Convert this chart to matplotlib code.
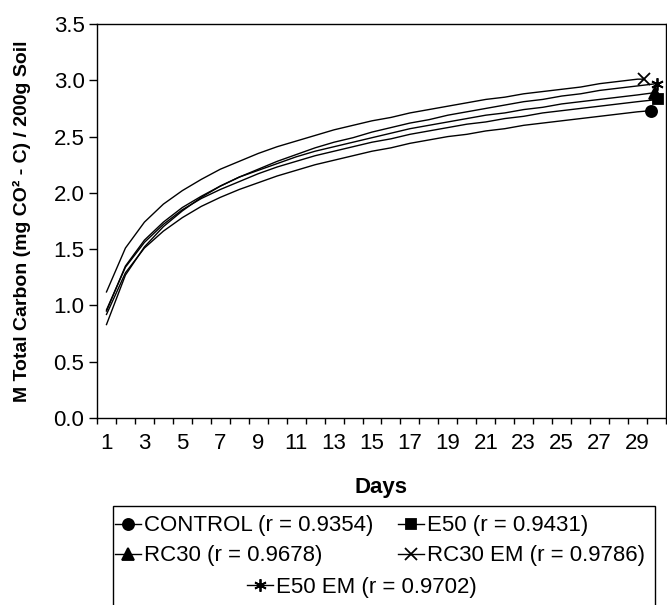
import matplotlib
matplotlib.use("Agg")
import matplotlib.pyplot as plt
from matplotlib.lines import Line2D
from matplotlib.patches import Rectangle

plt.rcParams['font.family'] = ['Liberation Sans', 'DejaVu Sans']

days = list(range(1, 30))
end_day = {"CONTROL": 29.7, "E50": 30.1, "RC30": 29.9, "RC30 EM": 29.35, "E50 EM": 30.0}

control = [0.92, 1.29, 1.51, 1.66, 1.78, 1.88, 1.96, 2.03, 2.09, 2.15,
           2.20, 2.25, 2.29, 2.33, 2.37, 2.40, 2.44, 2.47, 2.50, 2.52,
           2.55, 2.57, 2.60, 2.62, 2.64, 2.66, 2.68, 2.70, 2.72, 2.73]
e50 = [0.96, 1.34, 1.56, 1.72, 1.85, 1.95, 2.03, 2.10, 2.17, 2.23,
       2.28, 2.33, 2.37, 2.41, 2.45, 2.48, 2.52, 2.55, 2.58, 2.61,
       2.63, 2.66, 2.68, 2.71, 2.73, 2.75, 2.77, 2.79, 2.81, 2.83]
rc30 = [0.95, 1.35, 1.58, 1.74, 1.87, 1.97, 2.06, 2.14, 2.20, 2.26,
        2.32, 2.37, 2.41, 2.45, 2.49, 2.53, 2.57, 2.60, 2.63, 2.66,
        2.69, 2.71, 2.74, 2.76, 2.79, 2.81, 2.83, 2.85, 2.87, 2.89]
rc30_em = [1.12, 1.51, 1.74, 1.90, 2.02, 2.12, 2.21, 2.28, 2.35, 2.41,
           2.46, 2.51, 2.56, 2.60, 2.64, 2.67, 2.71, 2.74, 2.77, 2.80,
           2.83, 2.85, 2.88, 2.90, 2.92, 2.94, 2.97, 2.99, 3.01, 3.01]
e50_em = [0.83, 1.27, 1.52, 1.70, 1.84, 1.96, 2.06, 2.14, 2.21, 2.28,
          2.34, 2.40, 2.45, 2.49, 2.54, 2.58, 2.62, 2.65, 2.69, 2.72,
          2.75, 2.78, 2.81, 2.83, 2.86, 2.88, 2.91, 2.93, 2.95, 2.97]

series = {
    "CONTROL": (control, "o", 8, "0.9354"),
    "E50": (e50, "s", 7, "0.9431"),
    "RC30": (rc30, "^", 8, "0.9678"),
    "RC30 EM": (rc30_em, "x", 8, "0.9786"),
    "E50 EM": (e50_em, (6, 2, 0), 9, "0.9702"),
}

fig = plt.figure(figsize=(6.67, 6.05), dpi=100)
ax = fig.add_axes([97 / 667, 1 - 418 / 605, 569 / 667, 394 / 605])

handles = {}
for name, (vals, mk, ms, r) in series.items():
    x = days + [end_day[name]]
    ax.plot(x, vals, color="black", lw=1.0, marker=mk, ms=ms, markevery=[len(x) - 1],
            mfc="black", mec="black", mew=1.3)
    handles[name] = Line2D([0], [0], color="black", lw=1.0, marker=mk, ms=ms,
                           mfc="black", mec="black", mew=1.3)

ax.set_xlim(0.5, 30.5)
ax.set_ylim(0, 3.5)
ax.set_yticks([0, 0.5, 1.0, 1.5, 2.0, 2.5, 3.0, 3.5])
ax.set_yticklabels([f"{v:.1f}" for v in ax.get_yticks()])
ax.set_xticks(range(1, 30, 2))
ax.set_xticks([d + 0.5 for d in range(0, 31)], minor=True)
ax.tick_params(axis="x", which="major", length=0, pad=11, labelsize=16)
ax.tick_params(axis="x", which="minor", length=4, width=1, direction="out")
ax.tick_params(axis="y", length=6, width=1, direction="out", pad=3, labelsize=16)
for s in ax.spines.values():
    s.set_linewidth(1.0)

ax.set_xlabel("Days", fontsize=16, fontweight="bold")
ax.xaxis.set_label_coords(0.5, -0.15)
ax.set_ylabel("M Total Carbon (mg CO² - C) / 200g Soil", fontsize=14, fontweight="bold")
ax.yaxis.set_label_coords(-0.116, 0.5)

# legend box (cut off at the bottom edge like the original)
fig.patches.append(Rectangle((113 / 667, -0.05), 542 / 667, 0.05 + 1 - 506 / 605,
                             transform=fig.transFigure, fill=False, lw=1.0, ec="black"))

# each entry placed like the original flow layout
entries = [("CONTROL", 115, 526), ("E50", 398, 526), ("RC30", 115, 556),
           ("RC30 EM", 398, 556), ("E50 EM", 247, 587)]
for name, px, py in entries:
    fig.legend([handles[name]], [f"{name} (r = {series[name][3]})"],
               loc="center left", bbox_to_anchor=(px / 667, 1 - py / 605),
               frameon=False, fontsize=16, handlelength=1.15, handletextpad=0.15,
               borderpad=0, borderaxespad=0, numpoints=1)

fig.savefig("out.png", dpi=100)
